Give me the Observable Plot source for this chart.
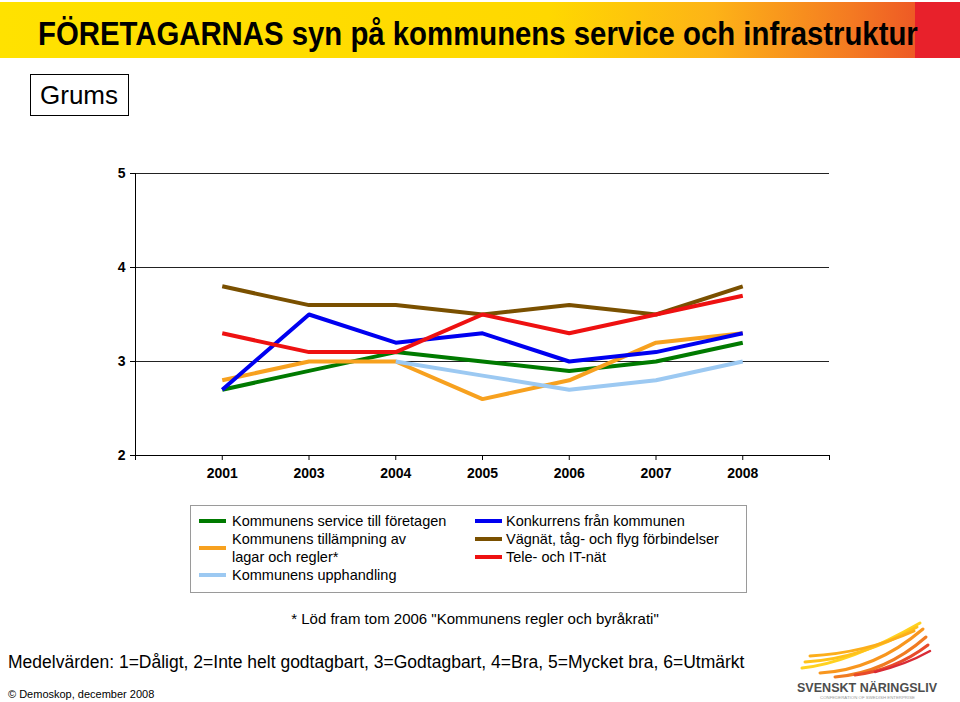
<!DOCTYPE html>
<html><head><meta charset="utf-8">
<script src="https://cdn.jsdelivr.net/npm/d3@7"></script>
<script src="https://cdn.jsdelivr.net/npm/@observablehq/plot@0.6"></script>
<style>
body{margin:0;background:#fff;font-family:"Liberation Sans",Arial,sans-serif;color:#000;}
#page{position:relative;width:960px;height:702px;overflow:hidden;background:#fff;}
.abs{position:absolute;}
#grums{left:30px;top:74px;width:97px;height:40px;border:1px solid #000;font-size:26px;line-height:40px;text-indent:9px;}
#chart{left:0;top:150px;}
#legend{left:190px;top:505px;width:555px;height:86px;border:1px solid #9a9a9a;}
.item{position:absolute;font-size:14.5px;line-height:18px;white-space:pre-line;}
.sw{position:absolute;width:27px;height:4px;}
#foot{left:0;width:950px;top:610px;text-align:center;font-size:15px;}
#medel{left:8px;top:652px;font-size:17.5px;}
#copy{left:8px;top:688px;font-size:11px;}
</style></head><body><div id="page">
<svg class="abs" style="left:0;top:0" width="960" height="62">
  <defs><linearGradient id="bg" x1="0" x2="1" y1="0" y2="0">
    <stop offset="0" stop-color="#FFE200"/>
    <stop offset="0.6" stop-color="#FFD800"/>
    <stop offset="0.78" stop-color="#FDB317"/>
    <stop offset="0.93" stop-color="#F47A22"/>
    <stop offset="1" stop-color="#EE5A25"/>
  </linearGradient></defs>
  <rect x="0" y="2" width="915" height="56" fill="url(#bg)"/>
  <rect x="915" y="2" width="45" height="56" fill="#E8212B"/>
  <text id="title" transform="translate(38,45)" font-family="Liberation Sans Narrow, Arial Narrow, Liberation Sans, Arial, sans-serif" font-size="33" font-weight="bold" fill="#000">FÖRETAGARNAS syn på kommunens service och infrastruktur</text>
</svg>
<div id="grums" class="abs">Grums</div>
<div id="chart" class="abs"></div>
<div id="legend" class="abs"></div>
<div id="foot" class="abs"></div>
<div id="medel" class="abs"></div>
<div id="copy" class="abs"></div>
<svg class="abs" style="left:780px;top:615px" width="180" height="87">
  <g fill="none" stroke-linecap="round">
    <path d="M22 53 Q70 48 140 8" stroke="#FFD21F" stroke-width="3"/>
    <path d="M25 47 Q80 44 137 12" stroke="#FFC21A" stroke-width="3"/>
    <path d="M30 41 Q85 38 134 16" stroke="#FCAE1B" stroke-width="3"/>
    <path d="M40 58 Q95 55 143 14" stroke="#F8961E" stroke-width="3"/>
    <path d="M55 62 Q105 58 146 22" stroke="#F07B22" stroke-width="3"/>
    <path d="M75 60 Q115 55 148 30" stroke="#E84A2A" stroke-width="3"/>
    <path d="M95 57 Q125 50 150 36" stroke="#D92B35" stroke-width="2.5"/>
  </g>
  <text x="17" y="77" font-family="Liberation Sans, Arial, sans-serif" font-size="13" font-weight="bold" fill="#4d4d4d" textLength="140" lengthAdjust="spacingAndGlyphs">SVENSKT NÄRINGSLIV</text>
  <text x="40" y="84" font-family="Liberation Sans, Arial, sans-serif" font-size="4" fill="#999" textLength="95" lengthAdjust="spacingAndGlyphs">CONFEDERATION OF SWEDISH ENTERPRISE</text>
</svg>
</div>
<script>
const years = ["2001","2003","2004","2005","2006","2007","2008"];
const seriesNames = [
  "Kommunens service till företagen",
  "Kommunens tillämpning av lagar och regler*",
  "Kommunens upphandling",
  "Konkurrens från kommunen",
  "Vägnät, tåg- och flyg förbindelser",
  "Tele- och IT-nät"
];
const legendLabels = [
  "Kommunens service till företagen",
  "Kommunens tillämpning av\nlagar och regler*",
  "Kommunens upphandling",
  "Konkurrens från kommunen",
  "Vägnät, tåg- och flyg förbindelser",
  "Tele- och IT-nät"
];
const seriesColors = ["#007A00","#F7A11F","#9CC9F2","#0000F0","#7A5000","#EE1111"];
const service     = [2.7, 2.9, 3.1, 3.0, 2.9, 3.0, 3.2];
const lagar       = [2.8, 3.0, 3.0, 2.6, 2.8, 3.2, 3.3];
const upphandling = [null, null, 3.0, 2.85, 2.7, 2.8, 3.0];
const konkurrens  = [2.7, 3.5, 3.2, 3.3, 3.0, 3.1, 3.3];
const vagnat      = [3.8, 3.6, 3.6, 3.5, 3.6, 3.5, 3.8];
const tele        = [3.3, 3.1, 3.1, 3.5, 3.3, 3.5, 3.7];
const yTicks = [2, 3, 4, 5];
const footnote = '* Löd fram tom 2006 "Kommunens regler och byråkrati"';
const scaleNote = "Medelvärden: 1=Dåligt, 2=Inte helt godtagbart, 3=Godtagbart, 4=Bra, 5=Mycket bra, 6=Utmärkt";
const source = "© Demoskop, december 2008";

// fit title horizontally into the banner (condensed look)
const title = document.getElementById("title");
const tw = title.getComputedTextLength();
title.setAttribute("transform", `translate(38,45) scale(${880 / tw},1)`);

const allSeries = [service, lagar, upphandling, konkurrens, vagnat, tele];
const rows = [];
allSeries.forEach((vals, s) => vals.forEach((v, i) => {
  if (v != null) rows.push({series: seriesNames[s], i: i + 1, value: v});
}));

const chart = Plot.plot({
  width: 960, height: 340,
  marginLeft: 135, marginRight: 131, marginTop: 23, marginBottom: 35,
  x: {type: "linear", domain: [0, years.length + 1], axis: null},
  y: {domain: [2, 5], axis: null},
  color: {domain: seriesNames, range: seriesColors},
  style: {fontFamily: "Liberation Sans, Arial, sans-serif", fontSize: "14px", fontWeight: "bold", color: "#000", background: "transparent", overflow: "visible"},
  marks: [
    Plot.ruleY(yTicks.slice(1), {stroke: "#222", strokeWidth: 1}),
    Plot.axisY({ticks: yTicks, tickSize: 5, tickPadding: 5, label: null, tickFormat: d => String(d)}),
    Plot.axisX({ticks: d3.range(0, years.length + 2), tickSize: 5, tickPadding: 8, label: null, tickFormat: d => years[d - 1] ?? ""}),
    Plot.ruleX([0], {stroke: "#000"}),
    Plot.ruleY([2], {stroke: "#000"}),
    Plot.line(rows, {x: "i", y: "value", z: "series", stroke: "series", strokeWidth: 4, strokeLinejoin: "round", strokeLinecap: "butt"})
  ]
});
document.getElementById("chart").appendChild(chart);

// Legend
const legend = document.getElementById("legend");
const colLayout = [
  {sw: 8, tx: 41, rows: [0, 1, 2]},
  {sw: 284, tx: 315, rows: [3, 4, 5]}
];
colLayout.forEach(col => {
  let top = 6;
  col.rows.forEach(k => {
    const lines = legendLabels[k].split("\n").length;
    const it = document.createElement("div");
    it.className = "item";
    it.style.left = col.tx + "px";
    it.style.top = top + "px";
    it.textContent = legendLabels[k];
    legend.appendChild(it);
    const sw = document.createElement("div");
    sw.className = "sw";
    sw.style.left = col.sw + "px";
    sw.style.top = (top + lines * 9 - 2) + "px";
    sw.style.background = seriesColors[k];
    legend.appendChild(sw);
    top += lines * 18;
  });
});
document.getElementById("foot").textContent = footnote;
document.getElementById("medel").textContent = scaleNote;
document.getElementById("copy").textContent = source;
</script>
</body></html>
